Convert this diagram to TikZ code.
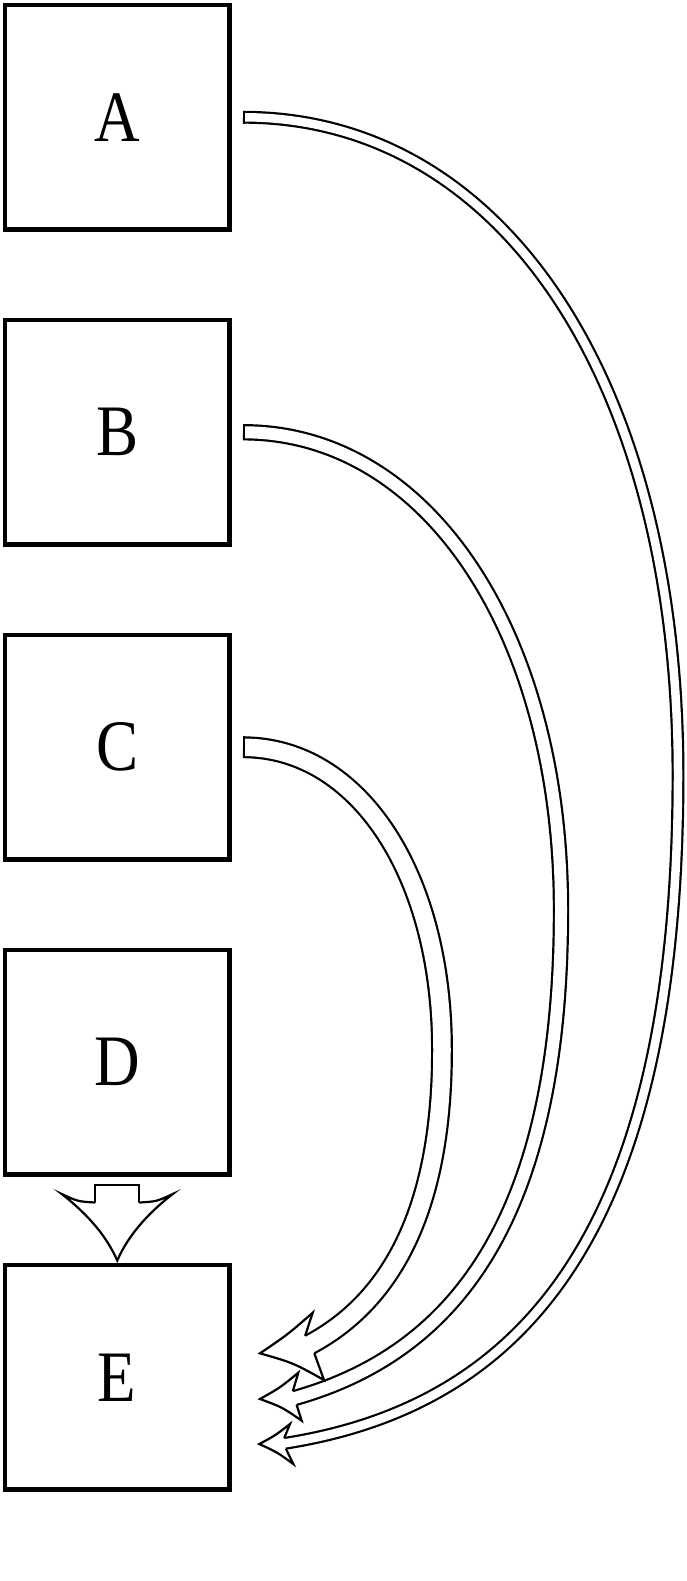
\documentclass[tikz,border=0pt]{standalone}
\usepackage{fontspec}
\setmainfont{Liberation Serif}[FakeStretch=0.87]
\usetikzlibrary{calc}
\begin{document}
\begin{tikzpicture}[x=1pt,y=-1pt,
  box/.style={draw=black, line width=4.7pt, minimum width=224.5pt, minimum height=224.5pt, inner sep=0pt, font=\fontsize{72.5}{80}\selectfont},
  shaft/.style={draw=black, line width=2.2pt, double=white, double distance=#1},
  capline/.style={draw=black, line width=2.2pt},
  head/.style={fill=white, draw=black, line width=2.2pt, line join=miter}]
\useasboundingbox (0,0) rectangle (687,1581);
% boxes
\node[box] (A) at (117.25,117.25) {A};
\node[box] (B) at (117.25,432.25) {B};
\node[box] (C) at (117.25,747.25) {C};
\node[box] (D) at (117.25,1062.25) {D};
\node[box] (E) at (117.25,1377.25) {E};
% connector end points
\coordinate (sA) at ($(A.center)+(125.75,0)$);
\coordinate (sB) at ($(B.center)+(125.75,0)$);
\coordinate (sC) at ($(C.center)+(125.75,0)$);
\coordinate (sD) at ($(D.center)+(0,121.75)$);
\coordinate (mA) at (678,775);
\coordinate (mB) at (561,910);
\coordinate (mC) at (442,1050);
\coordinate (jA) at ($(E.center)+(167.75,66.05)$);
\coordinate (jB) at ($(E.center)+(177.45,20.75)$);
\coordinate (jC) at ($(E.center)+(192.45,-32.75)$);
\coordinate (jAx) at ($(jA)+(-5.9,0.9)$);
\coordinate (jBx) at ($(jB)+(-5.8,1.6)$);
\coordinate (jCx) at ($(jC)+(-5.3,2.8)$);
\coordinate (jD) at ($(E.center)+(0,-167.25)$);
% shafts
\draw[shaft=8.5pt] (sA) .. controls (502,117.25) and (678,380) .. (mA)
  .. controls (678,1243) and (515,1407) .. (jA) -- (jAx);
\draw[shaft=12pt] (sB) .. controls (427.4,432.25) and (561,633) .. (mB)
  .. controls (561,1227) and (448.6,1354.5) .. (jB) -- (jBx);
\draw[shaft=17.5pt] (sC) .. controls (358.4,747.25) and (442,874.3) .. (mC)
  .. controls (442,1226) and (380.3,1307) .. (jC) -- (jCx);
\draw[shaft=41.8pt] (sD) -- (jD);
% start caps
\draw[capline] ($(sA)+(1.1,-6.45)$) -- ($(sA)+(1.1,6.45)$);
\draw[capline] ($(sB)+(1.1,-8.2)$) -- ($(sB)+(1.1,8.2)$);
\draw[capline] ($(sC)+(1.1,-10.95)$) -- ($(sC)+(1.1,10.95)$);
\draw[capline] ($(sD)+(-23.1,1.1)$) -- ($(sD)+(23.1,1.1)$);
% heads
\filldraw[head] (284.2,1438.1) -- (290,1424) .. controls (275.5,1435.3) .. (259.3,1444)
  .. controls (277.3,1452.3) .. (293.3,1464) -- (285.8,1448.5);
\filldraw[head] (292.8,1391.2) -- (298.3,1372.7) .. controls (280.3,1387.5) .. (260,1399)
  .. controls (282.2,1407.2) .. (301.7,1420.7) -- (296.6,1404.8);
\filldraw[head] (305.1,1335.8) -- (312.7,1312.7) .. controls (287.6,1334.6) .. (260,1353.3)
  .. controls (293.5,1363) .. (324,1380) -- (314.3,1353.2);
\filldraw[head] (95.25,1202.5) .. controls (78,1201.5) .. (61.75,1194)
  .. controls (88.4,1214.7) and (106.9,1236.8) .. (117.25,1260.5)
  .. controls (127.6,1236.8) and (146.1,1214.7) .. (172.75,1194)
  .. controls (156.5,1201.5) .. (139.25,1202.5);
\end{tikzpicture}
\end{document}
